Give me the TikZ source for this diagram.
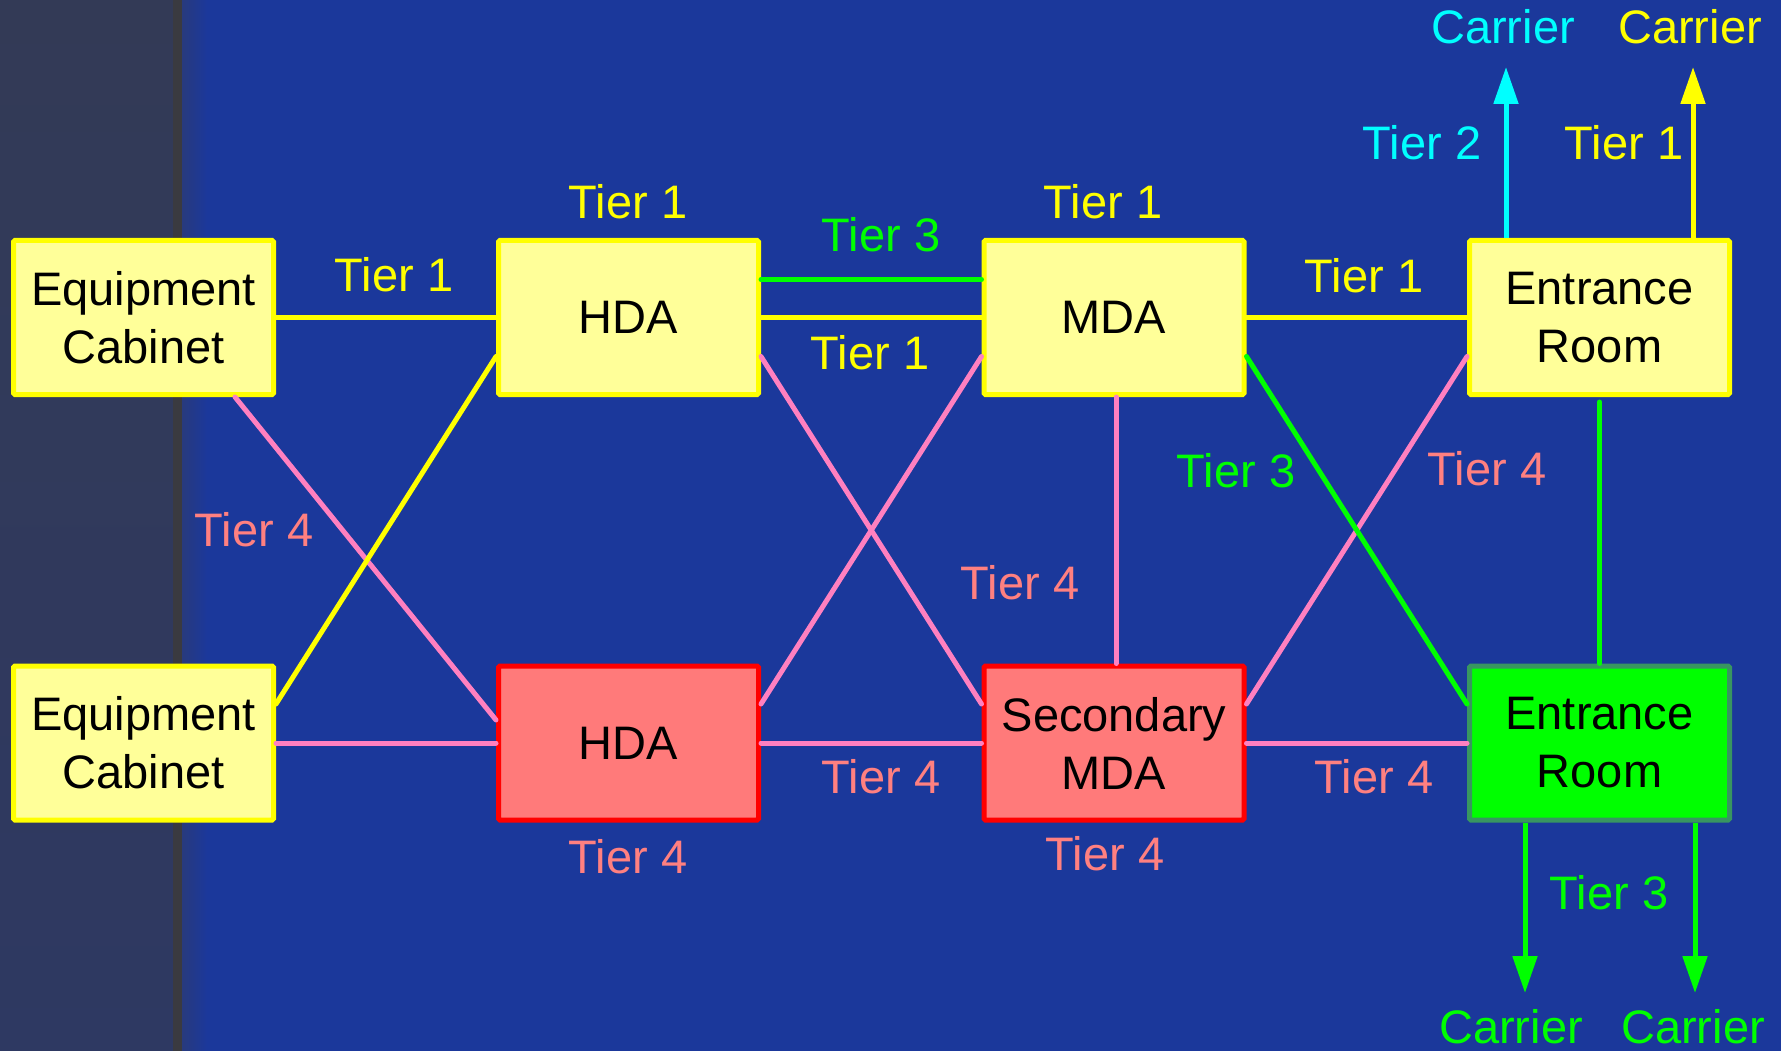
\documentclass[tikz,border=0pt]{standalone}
\usepackage{fontspec}
\setmainfont{Liberation Sans}
\usetikzlibrary{arrows.meta,calc}

\definecolor{bgblue}{RGB}{27,56,155}
\definecolor{paneltop}{RGB}{51,58,86}
\definecolor{panelbot}{RGB}{46,57,98}
\definecolor{seam}{RGB}{58,58,64}
\definecolor{seamedge}{RGB}{40,58,125}
\definecolor{boxyellow}{RGB}{255,255,153}
\definecolor{tyellow}{RGB}{255,255,0}
\definecolor{boxred}{RGB}{255,122,122}
\definecolor{tred}{RGB}{255,0,0}
\definecolor{tgreen}{RGB}{0,255,0}
\definecolor{greenedge}{RGB}{56,150,96}
\definecolor{tcyan}{RGB}{0,255,255}
\definecolor{linkpink}{RGB}{255,128,192}
\definecolor{salmon}{RGB}{255,128,128}

\newcommand{\boxfont}{\fontsize{47}{58}\selectfont}
\newcommand{\lblfont}{\fontsize{47}{54}\selectfont}

\begin{document}
\begin{tikzpicture}[x=1pt,y=-1pt,
  box/.style={draw, line width=5pt, minimum width=260pt, minimum height=154pt,
    inner sep=0pt, align=center, font=\boxfont, rounded corners=1.5pt, text=black},
  ybox/.style={box, fill=boxyellow, draw=tyellow},
  rbox/.style={box, fill=boxred, draw=tred},
  gbox/.style={box, fill=tgreen, draw=greenedge},
  lbl/.style={font=\lblfont, inner sep=0pt},
  link/.style={line width=5pt, line cap=round},
  feed/.style={line width=5pt, -{Triangle[width=24pt,length=37pt]}}
]
\useasboundingbox (0,0) rectangle (1781,1051);

% background: blue field with a darker side panel on the left
\fill[bgblue] (0,0) rectangle (1781,1051);
\shade[top color=paneltop, bottom color=panelbot] (0,0) rectangle (174,1051);
\fill[seam] (173,0) rectangle (182,1051);
\shade[left color=seamedge, right color=bgblue] (182,0) rectangle (207,1051);

% rooms
\node[ybox] (ec1)  at (143.5,317.5) {Equipment\\Cabinet};
\node[ybox] (hda1) at (628.5,317.5) {HDA};
\node[ybox] (mda)  at (1114,317.5) {MDA};
\node[ybox] (er1)  at (1599.5,317.5) {Entrance\\Room};
\node[ybox] (ec2)  at (143.5,743) {Equipment\\Cabinet};
\node[rbox] (hda2) at (628.5,743) {HDA};
\node[rbox] (smda) at (1114,743) {Secondary\\MDA};
\node[gbox] (er2)  at (1599.5,743) {Entrance\\Room};

% carrier end points
\coordinate (c2) at (1506,67);
\coordinate (c1) at (1693,67);
\coordinate (c3a) at (1525,993);
\coordinate (c3b) at (1695,993);

% cabling between rooms
\draw[link, linkpink] ([xshift=91.5pt]ec1.south) -- ([yshift=23pt]hda2.west);
\draw[link, linkpink] ([yshift=-39pt]hda1.east) -- ([yshift=39pt]smda.west);
\draw[link, linkpink] ([yshift=-39pt]mda.west) -- ([yshift=39pt]hda2.east);
\draw[link, linkpink] ([xshift=2pt]mda.south) -- ([xshift=2pt]smda.north);
\draw[link, linkpink] ([yshift=-39pt]er1.west) -- ([yshift=39pt]smda.east);
\draw[link, linkpink] (ec2.east) -- (hda2.west);
\draw[link, linkpink] (hda2.east) -- (smda.west);
\draw[link, linkpink] (smda.east) -- (er2.west);
\draw[link, tyellow] ([yshift=39pt]ec2.east) -- ([yshift=-39pt]hda1.west);
\draw[link, tyellow] (ec1.east) -- (hda1.west);
\draw[link, tyellow] (hda1.east) -- (mda.west);
\draw[link, tgreen] ([yshift=38pt]hda1.east) -- ([yshift=38pt]mda.west);
\draw[link, tyellow] (mda.east) -- (er1.west);
\draw[link, tgreen] ([yshift=-39pt]mda.east) -- ([yshift=39pt]er2.west);
\draw[link, tgreen] ([yshift=-5pt]er1.south) -- (er2.north);

% carrier feeds
\draw[feed, tcyan] ([xshift=-93.5pt]er1.north) -- (c2);
\draw[feed, tyellow] ([xshift=93.5pt]er1.north) -- (c1);
\draw[feed, tgreen] ([xshift=-74.5pt]er2.south) -- (c3a);
\draw[feed, tgreen] ([xshift=95.5pt]er2.south) -- (c3b);

% labels
\node[lbl, tyellow] (t1a) at (394,275) {Tier 1};
\node[lbl, tyellow] (t1b) at (628,202) {Tier 1};
\node[lbl, tyellow] (t1c) at (1103,202) {Tier 1};
\node[lbl, tgreen]  (t3a) at (881,235) {Tier 3};
\node[lbl, tyellow] (t1d) at (870,353) {Tier 1};
\node[lbl, tyellow] (t1e) at (1364,276) {Tier 1};
\node[lbl, tcyan]   (t2)  at (1422,143) {Tier 2};
\node[lbl, tyellow] (t1f) at (1624,143) {Tier 1};
\node[lbl, tcyan]   (k2)  at (1503,27) {Carrier};
\node[lbl, tyellow] (k1)  at (1690,27) {Carrier};
\node[lbl, salmon]  (t4a) at (254,530) {Tier 4};
\node[lbl, tgreen]  (t3b) at (1236,471) {Tier 3};
\node[lbl, salmon]  (t4b) at (1487,469) {Tier 4};
\node[lbl, salmon]  (t4c) at (1020,583) {Tier 4};
\node[lbl, salmon]  (t4d) at (881,777) {Tier 4};
\node[lbl, salmon]  (t4e) at (1374,777) {Tier 4};
\node[lbl, salmon]  (t4f) at (628,857) {Tier 4};
\node[lbl, salmon]  (t4g) at (1105,854) {Tier 4};
\node[lbl, tgreen]  (t3c) at (1609,893) {Tier 3};
\node[lbl, tgreen]  (k3a) at (1511,1027) {Carrier};
\node[lbl, tgreen]  (k3b) at (1693,1027) {Carrier};
\end{tikzpicture}
\end{document}
